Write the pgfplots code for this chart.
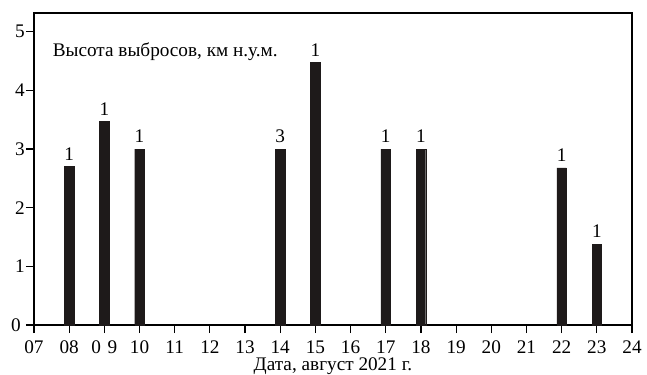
\documentclass[border=0pt]{standalone}
\usepackage{pgfplots}
\pgfplotsset{compat=1.18}
\usepackage{pgfplotstable}
\usepackage{fontspec}
\setmainfont{Liberation Serif}
\pgfplotstableread{
x y lab
8 2.7 1
9 3.47 1
10 3.0 1
14 3.0 3
15 4.48 1
17 3.0 1
18 3.0 1
22 2.68 1
23 1.38 1
}\data
\definecolor{barc}{HTML}{1E1A1A}
\begin{document}
\fontsize{19.3}{21}\selectfont
\begin{tikzpicture}
\begin{axis}[
  scale only axis,
  width=598bp, height=312bp,
  xmin=7, xmax=24, ymin=0, ymax=5.32,
  xtick={7,...,24},
  xticklabels={07,08,0\hspace{0.35em}9,10,11,12,13,14,15,16,17,18,19,20,21,22,23,24},
  ytick={0,1,2,3,4,5},
  yticklabels={0\hspace*{4bp},1,2,3,4,5},
  xtick pos=bottom, ytick pos=left,
  tick align=outside,
  major tick length=8bp,
  tick style={black, line width=1.2pt},
  axis line style={line width=1.1pt},
  x tick label style={inner sep=0bp, anchor=base, yshift=-20bp},
  y tick label style={inner sep=0bp, xshift=-1bp},
  xlabel={Дата, август 2021 г.},
  xlabel style={at={(rel axis cs:0.5,0)}, anchor=base, inner sep=0bp, yshift=-45.5bp},
  /pgf/number format/assume math mode=true,
  ticklabel style={font=\fontsize{19.3}{21}\selectfont},
  label style={font=\fontsize{19.3}{21}\selectfont},
  clip=false,
]
\addplot[ybar, bar width=9.6bp, fill=barc, draw=barc,
  point meta=explicit symbolic,
  nodes near coords, nodes near coords style={font=\fontsize{19.3}{21}\selectfont, inner sep=0bp, yshift=6bp}]
  table[x=x, y=y, meta=lab] {\data};
\node[anchor=base west, inner sep=0bp, font=\fontsize{19.3}{21}\selectfont] at (axis cs:7.53,4.576) {Высота выбросов, км н.у.м.};
\path (rel axis cs:0,1) ++(-34bp,13bp) coordinate (tl);
\path (rel axis cs:1,0) ++(15bp,-49.5bp) coordinate (br);
\path (tl) rectangle (br);
\end{axis}
\end{tikzpicture}
\end{document}
